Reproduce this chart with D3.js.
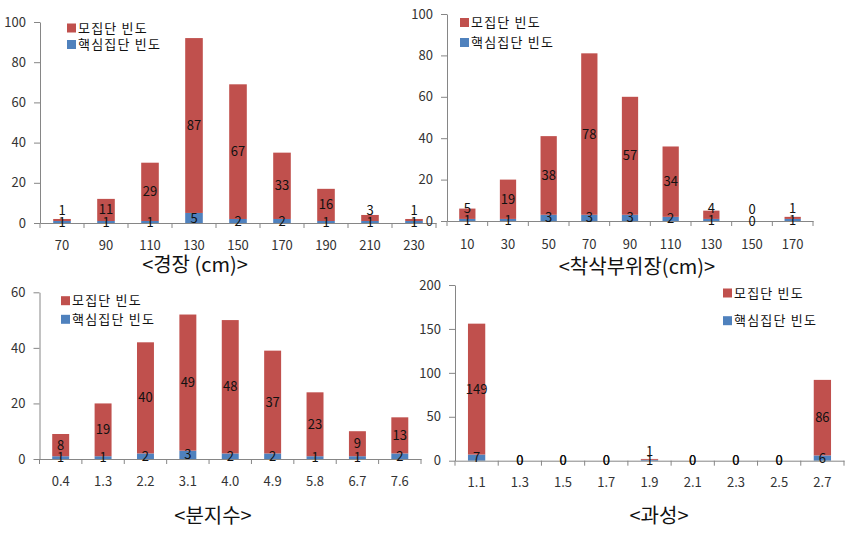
<!DOCTYPE html>
<html><head><meta charset="utf-8">
<script src="https://cdn.jsdelivr.net/npm/d3@7"></script>
<style>
body{margin:0;background:#fff}
text{font-family:"Noto Sans CJK KR","Noto Sans",sans-serif}
</style></head><body>
<svg id="c" width="845" height="533"></svg>
<script>
// ---- data ----
const seriesNames = ["모집단 빈도", "핵심집단 빈도"];

const titleA = "<경장 (cm)>";
const catsA = ["70","90","110","130","150","170","190","210","230"];
const coreA = [1,1,1,5,2,2,1,1,1];
const popA  = [1,11,29,87,67,33,16,3,1];
const ticksA = [0,20,40,60,80,100];

const titleB = "<착삭부위장(cm)>";
const catsB = ["10","30","50","70","90","110","130","150","170"];
const coreB = [1,1,3,3,3,2,1,0,1];
const popB  = [5,19,38,78,57,34,4,0,1];
const ticksB = [0,20,40,60,80,100];

const titleC = "<분지수>";
const catsC = ["0.4","1.3","2.2","3.1","4.0","4.9","5.8","6.7","7.6"];
const coreC = [1,1,2,3,2,2,1,1,2];
const popC  = [8,19,40,49,48,37,23,9,13];
const ticksC = [0,20,40,60];

const titleD = "<과성>";
const catsD = ["1.1","1.3","1.5","1.7","1.9","2.1","2.3","2.5","2.7"];
const coreD = [7,0,0,0,1,0,0,0,6];
const popD  = [149,0,0,0,1,0,0,0,86];
const ticksD = [0,50,100,150,200];

// ---- styles / layout ----
const RED = "#C0504D", BLUE = "#4F81BD", AXIS = "#868686";
const svg = d3.select("#c");

function panel(title, cats, core, pop, ticks, L){
  const g = svg.append("g");
  const x = d3.scaleBand().domain(cats).range([L.x0, L.x1]).paddingInner(0.6).paddingOuter(0.3);
  const y = d3.scaleLinear().domain([0, ticks[ticks.length-1]]).range([L.yBase, L.yTop]);
  const rows = cats.map((c,i)=>({c, core:core[i], pop:pop[i]}));

  // bars
  g.selectAll("rect.core").data(rows).join("rect")
    .attr("x", d=>x(d.c)).attr("width", x.bandwidth())
    .attr("y", d=>y(d.core)).attr("height", d=>y(0)-y(d.core)).attr("fill", BLUE);
  g.selectAll("rect.pop").data(rows).join("rect")
    .attr("x", d=>x(d.c)).attr("width", x.bandwidth())
    .attr("y", d=>y(d.core+d.pop)).attr("height", d=>y(d.core)-y(d.core+d.pop)).attr("fill", RED);

  // y axis
  const ya = d3.axisLeft(y).tickValues(ticks).tickSize(6).tickPadding(8).tickSizeOuter(0);
  const yg = g.append("g").attr("transform", `translate(${L.x0},0)`).call(ya);
  yg.select(".domain").attr("stroke", AXIS);
  yg.selectAll(".tick line").attr("stroke", AXIS);
  yg.selectAll(".tick text").attr("font-size", 13).attr("fill", "#333")
    .style("font-family", '"Noto Sans CJK KR",sans-serif');

  // x axis
  const xa = d3.axisBottom(x).tickSize(0).tickPadding(L.labPad).tickSizeOuter(0);
  const xg = g.append("g").attr("transform", `translate(0,${L.yBase})`).call(xa);
  xg.select(".domain").attr("stroke", AXIS);
  xg.selectAll(".tick text").attr("font-size", 13).attr("fill", "#333")
    .style("font-family", '"Noto Sans CJK KR",sans-serif');
  const edges = cats.map(c => x(c) - x.step()*0.3).concat([L.x1]);
  xg.selectAll("line.edge").data(edges).join("line")
    .attr("x1", d=>d).attr("x2", d=>d).attr("y1", 0).attr("y2", 5).attr("stroke", AXIS);

  // data labels
  const cx = d => x(d.c) + x.bandwidth()/2;
  const coreY = d => (y(0)+y(d.core))/2;
  const popY = d => {
    const mid = (y(d.core)+y(d.core+d.pop))/2;
    if (d.pop === 0 && !L.liftZero) return coreY(d);
    return Math.min(mid, coreY(d) - L.lift);
  };
  g.selectAll("text.core").data(rows).join("text")
    .attr("x", cx).attr("y", coreY).attr("dy", "0.35em").attr("text-anchor", "middle")
    .attr("font-size", 13).attr("fill", "#111").text(d=>d.core);
  g.selectAll("text.pop").data(rows).join("text")
    .attr("x", cx).attr("y", popY).attr("dy", "0.35em").attr("text-anchor", "middle")
    .attr("font-size", 13).attr("fill", "#111").text(d=>d.pop);

  // legend
  [RED, BLUE].forEach((col, i) => {
    const cy = L.legY[i];
    g.append("rect").attr("x", L.legX).attr("y", cy-4.5).attr("width", 9).attr("height", 9).attr("fill", col);
    g.append("text").attr("x", L.legX+11).attr("y", cy).attr("dy", "0.35em")
      .attr("font-size", 13).attr("letter-spacing", 1.2).attr("fill", "#111").text(seriesNames[i]);
  });

  // title
  g.append("text").attr("x", L.tx).attr("y", L.ty).attr("dy", "0.35em").attr("text-anchor", "middle")
    .attr("font-size", 20).attr("fill", "#111").text(title);
}

panel(titleA, catsA, coreA, popA, ticksA,
  {x0:40, x1:436, yBase:223, yTop:22, labPad:18, lift:11.5, liftZero:true,
   legX:67, legY:[28,44.5], tx:195, ty:265});
panel(titleB, catsB, coreB, popB, ticksB,
  {x0:447, x1:813, yBase:221, yTop:14, labPad:19, lift:11.5, liftZero:true,
   legX:460, legY:[22.5,42.5], tx:637, ty:267});
panel(titleC, catsC, coreC, popC, ticksC,
  {x0:39.5, x1:421, yBase:459, yTop:292.3, labPad:18, lift:11.5, liftZero:true,
   legX:61, legY:[300.7,319.3], tx:213, ty:516});
panel(titleD, catsD, coreD, popD, ticksD,
  {x0:455, x1:844, yBase:460.7, yTop:285, labPad:17, lift:8.5, liftZero:false,
   legX:723, legY:[293,320.7], tx:659, ty:516});
</script>
</body></html>
